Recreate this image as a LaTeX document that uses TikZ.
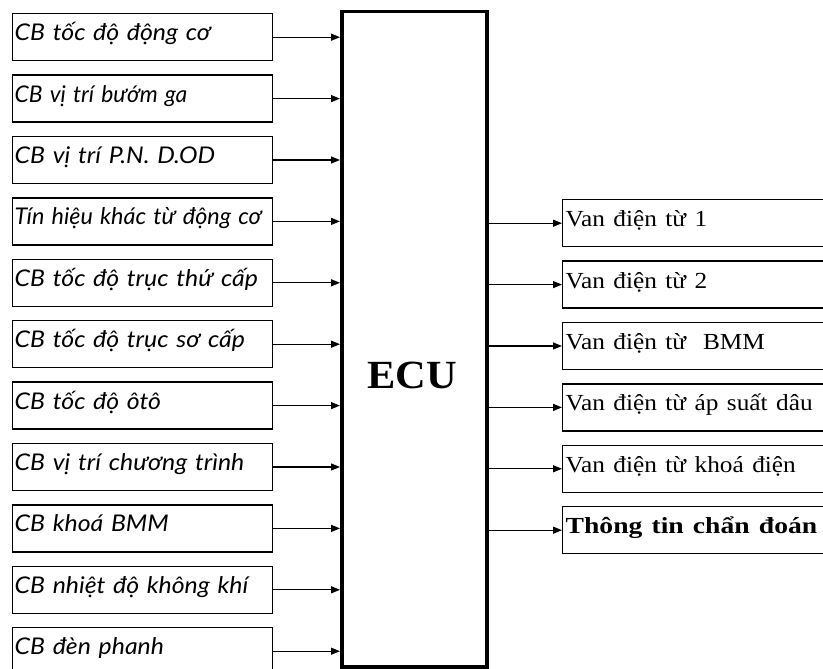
\documentclass[tikz,border=0pt]{standalone}
\usepackage{fontspec}
\setmainfont{Liberation Serif}
\newfontfamily\cbfont{Lato}[FakeStretch=1.08]
\usetikzlibrary{arrows.meta,positioning}

\begin{document}
\begin{tikzpicture}[x=1pt, y=-1pt, >={Triangle[length=9pt,width=7pt]}, line width=1.2pt,
  inbox/.style={draw, line width=1.4pt, text width=256pt, align=left, inner xsep=2pt,
    minimum height=47pt, text height=16pt, text depth=9pt,
    font=\cbfont\itshape\fontsize{23}{26}\selectfont},
  outbox/.style={draw, line width=1.4pt, text width=276pt, align=left, inner xsep=3pt,
    minimum height=47pt, text height=16pt, text depth=9pt,
    font=\fontsize{23}{26}\selectfont}]

  \clip (0,0) rectangle (823,669);

  % central unit
  \node[draw, line width=3.5pt, minimum width=145pt, minimum height=655pt, anchor=north west] (ecu) at (340,10) {};
  \node[font=\bfseries\fontsize{40}{42}\selectfont] (ecuname) at (412,375) {\scalebox{1.06}[1]{ECU}};

  % inputs
  \node[inbox, anchor=north west] (s1) at (12,13) {CB tốc độ động cơ};
  \node[inbox, below=13pt of s1] (s2) {\scalebox{0.92}[1]{CB vị trí bướm ga}};
  \node[inbox, below=13pt of s2] (s3) {CB vị trí P.N. D.OD};
  \node[inbox, below=13pt of s3] (s4) {\scalebox{0.94}[1]{Tín hiệu khác từ động cơ}};
  \node[inbox, below=13pt of s4] (s5) {CB tốc độ trục thứ cấp};
  \node[inbox, below=13pt of s5] (s6) {CB tốc độ trục sơ cấp};
  \node[inbox, below=13pt of s6] (s7) {CB tốc độ ôtô};
  \node[inbox, below=13pt of s7] (s8) {CB vị trí chương trình};
  \node[inbox, below=13pt of s8] (s9) {CB khoá BMM};
  \node[inbox, below=13pt of s9] (s10) {CB nhiệt độ không khí};
  \node[inbox, below=13pt of s10] (s11) {CB đèn phanh};

  % outputs
  \node[outbox, anchor=north west] (a1) at (562,199) {\scalebox{1.1}[1]{Van điện từ 1}};
  \node[outbox, below=13pt of a1] (a2) {\scalebox{1.1}[1]{Van điện từ 2}};
  \node[outbox, below=13pt of a2] (a3) {\scalebox{1.1}[1]{Van điện từ\ \ BMM}};
  \node[outbox, below=13pt of a3] (a4) {\scalebox{1.1}[1]{Van điện từ áp suất dâu}};
  \node[outbox, below=13pt of a4] (a5) {\scalebox{1.1}[1]{Van điện từ khoá điện}};
  \node[outbox, below=13pt of a5, font=\bfseries\fontsize{23}{26}\selectfont] (a6) {\scalebox{1.2}[1]{Thông tin chẩn đoán}};

  \draw[->] (s1.east) -- (s1.east -| ecu.west);
  \draw[->] (s2.east) -- (s2.east -| ecu.west);
  \draw[->] (s3.east) -- (s3.east -| ecu.west);
  \draw[->] (s4.east) -- (s4.east -| ecu.west);
  \draw[->] (s5.east) -- (s5.east -| ecu.west);
  \draw[->] (s6.east) -- (s6.east -| ecu.west);
  \draw[->] (s7.east) -- (s7.east -| ecu.west);
  \draw[->] (s8.east) -- (s8.east -| ecu.west);
  \draw[->] (s9.east) -- (s9.east -| ecu.west);
  \draw[->] (s10.east) -- (s10.east -| ecu.west);
  \draw[->] (s11.east) -- (s11.east -| ecu.west);

  \draw[->] (a1.west -| ecu.east) -- (a1.west);
  \draw[->] (a2.west -| ecu.east) -- (a2.west);
  \draw[->] (a3.west -| ecu.east) -- (a3.west);
  \draw[->] (a4.west -| ecu.east) -- (a4.west);
  \draw[->] (a5.west -| ecu.east) -- (a5.west);
  \draw[->] (a6.west -| ecu.east) -- (a6.west);

\end{tikzpicture}
\end{document}
